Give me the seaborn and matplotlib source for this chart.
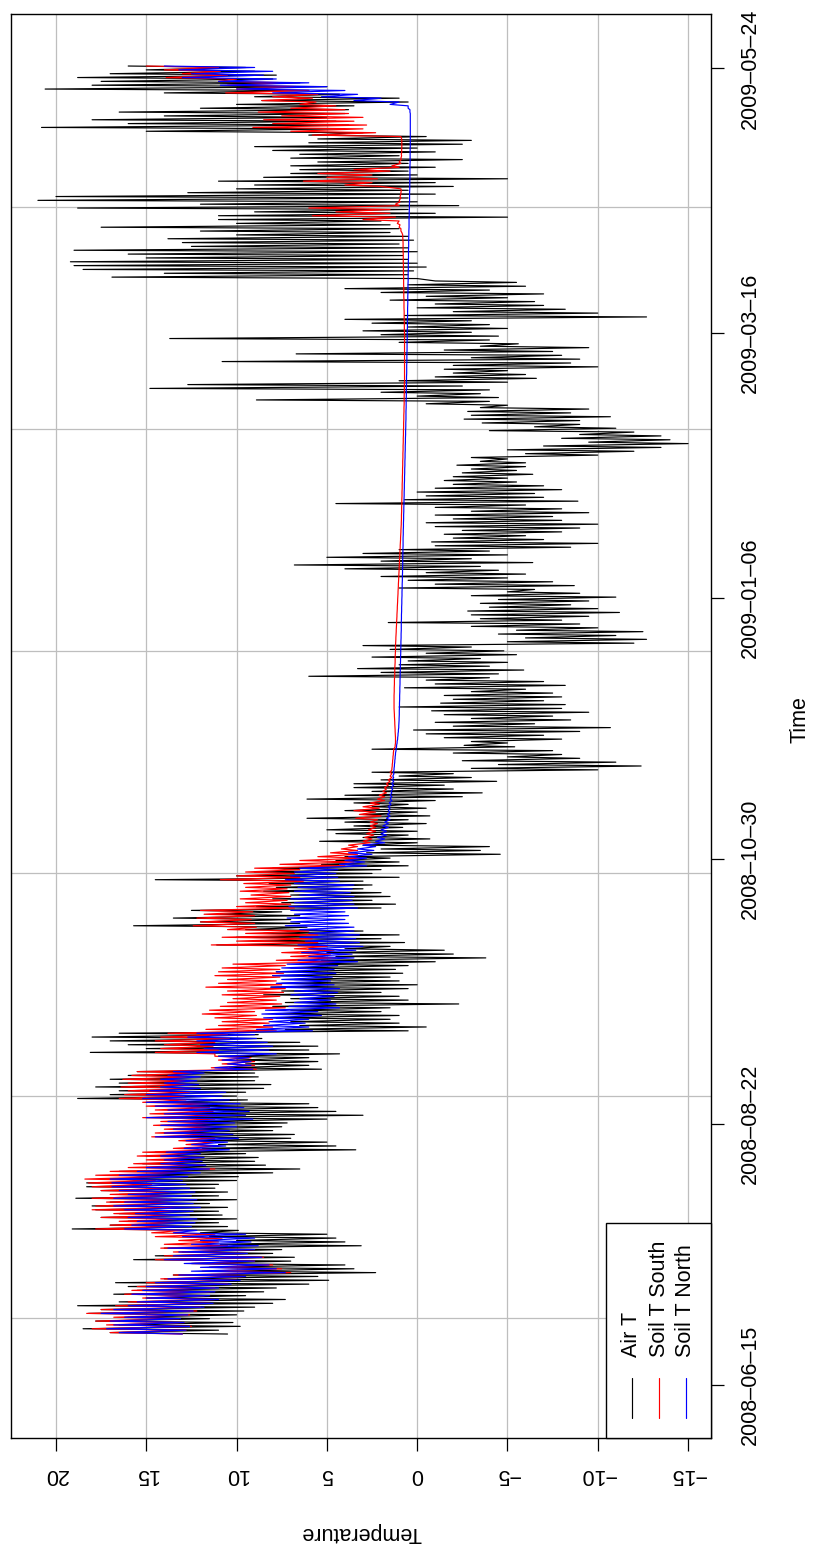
import numpy as np
import matplotlib
matplotlib.use("Agg")
import matplotlib.pyplot as plt
import matplotlib.dates as mdates
from matplotlib.patches import Rectangle
import seaborn as sns

# ---------------------------------------------------------------------------
# Daily temperature extremes (deg C), one entry per day starting at START.
# The low of each day is logged in the early morning, the high in the afternoon.
# ---------------------------------------------------------------------------
START = "2008-06-28"

AIR_HI = [
    17.0, 18.5, 16.5, 17.8, 16.0, 18.2, 17.5, 18.8, 16.5, 15.0,
    16.8, 15.5, 16.0, 16.7, 14.0, 13.5, 10.4, 11.5, 12.5, 15.7,
    14.5, 13.0, 14.0, 10.9, 10.0, 11.5, 12.0, 19.1, 17.0, 16.0,
    17.5, 16.5, 17.8, 18.0, 17.0, 18.9, 16.5, 17.5, 18.3, 18.3,
    17.5, 16.0, 16.5, 15.0, 15.2, 14.0, 15.0, 14.5, 11.9, 11.0,
    12.0, 13.5, 14.0, 13.0, 13.8, 12.5, 14.2, 13.0, 12.5, 13.5,
    14.0, 18.8, 17.0, 16.5, 17.8, 16.5, 17.0, 16.0, 15.5, 10.4,
    9.5, 10.0, 11.0, 18.1, 15.0, 16.0, 17.0, 18.0, 16.5, 7.3,
    6.5, 7.0, 7.8, 7.8, 7.0, 8.0, 7.3, 7.0, 8.5, 7.5,
    8.1, 7.5, 6.8, 8.0, 7.8, 7.0, 6.5, 5.3, 4.5, 5.0,
    4.0, 11.1, 9.0, 10.0, 8.5, 9.5, 15.7, 12.0, 13.5, 11.0,
    12.5, 8.9, 7.5, 8.0, 7.0, 8.5, 7.8, 8.2, 14.5, 10.0,
    9.0, 8.0, 5.3, 4.5, 4.0, 2.8, 2.0, 3.0, 5.4, 3.0,
    4.5, 5.0, 3.5, 4.0, 6.1, 3.0, 4.0, 2.5, 3.5, 6.1,
    4.0, 2.5, 3.5, 3.5, 2.0, 1.0, 2.5, -3.0, -4.5, -2.5,
    -5.0, -2.0, 2.5, -2.6, -3.0, -1.5, -0.5, 0.2, -2.0, -1.0,
    -3.0, -1.5, -0.8, 1.0, -1.3, -2.0, -1.5, -3.0, 0.7, -1.0,
    -0.5, 6.0, 2.0, 3.3, 1.0, 0.5, 2.5, -0.5, 1.5, 3.0,
    -5.0, -6.0, -4.5, -5.5, -3.0, 1.6, -3.5, -3.0, -2.8, -4.0,
    -3.5, -4.5, -3.0, -5.0, 1.0, -1.0, 0.5, 2.0, -0.5, 4.0,
    6.8, 2.0, 5.0, 3.0, 1.0, -1.0, -0.8, -2.0, -1.5, -2.5,
    -1.0, -0.5, -2.0, -1.0, -3.0, -1.0, 4.5, 0.7, -0.5, 0.0,
    -1.0, -2.0, -1.5, -2.0, -2.5, -3.0, -2.2, -3.5, -3.0, -6.0,
    -5.0, -7.0, -9.5, -8.0, -9.0, -4.0, -6.5, -3.6, -2.6, -3.0,
    -2.8, -3.5, -0.5, 8.9, 0.0, 2.0, 14.8, 12.7, 1.0, -1.0,
    -2.0, -1.5, -2.0, 10.8, -3.0, 6.7, -1.5, -3.5, 1.0, 13.7,
    2.0, 3.0, 0.5, 2.5, 4.0, 0.7, -2.0, 0.0, -1.0, 1.5,
    -0.5, 2.0, 4.0, 0.5, -1.0, 16.9, 14.0, 18.5, 19.0, 19.2,
    15.0, 16.0, 19.0, 12.5, 13.0, 13.8, 10.0, 12.0, 17.5, 10.0,
    11.0, 11.0, 9.0, 18.8, 12.0, 21.0, 20.0, 12.7, 10.0, 9.0,
    11.0, 8.5, 7.0, 6.5, 7.0, 5.5, 7.0, 6.5, 8.0, 9.0,
    6.0, 5.5, 6.0, 15.0, 20.8, 16.0, 18.0, 14.0, 16.5, 12.0,
    10.0, 8.6, 9.0, 14.0, 20.6, 18.0, 17.5, 18.8, 17.0, 15.0,
    16.0,
]

AIR_LO = [
    10.5, 11.0, 9.8, 10.2, 11.5, 10.0, 9.6, 9.0, 8.0, 7.3,
    9.5, 8.5, 7.8, 6.0, 4.9, 5.5, 2.3, 3.5, 4.0, 7.0,
    6.8, 8.0, 7.5, 3.1, 4.0, 4.5, 5.0, 9.9, 10.5, 11.0,
    10.0, 10.8, 11.0, 10.5, 11.5, 10.0, 11.0, 10.5, 11.2, 11.0,
    10.0, 9.9, 8.0, 6.5, 8.4, 9.0, 8.8, 9.5, 3.4, 4.5,
    5.0, 7.0, 6.8, 8.0, 7.5, 7.2, 5.0, 3.0, 4.5, 5.5,
    6.0, 9.4, 10.0, 9.5, 8.5, 8.1, 9.0, 8.8, 9.0, 5.3,
    6.0, 5.5, 6.0, 4.3, 6.0, 5.5, 6.5, 8.6, 8.8, 0.5,
    -0.5, 1.0, 1.5, 1.0, 2.0, 1.5, -2.3, 0.5, 1.0, 2.0,
    0.5, 0.0, 1.0, 1.5, 0.8, 1.2, 0.5, -1.0, -3.8, -2.0,
    -1.5, 1.5, 0.7, 2.0, 1.0, 3.0, 6.1, 6.5, 7.0, 6.5,
    7.5, 2.0, 1.2, 2.5, 1.5, 2.0, 3.0, 2.5, 3.0, 1.0,
    2.5, 2.0, 0.5, 1.0, 1.5, -4.6, -3.5, -4.0, 0.0, -0.7,
    0.5, 0.0, 0.8, -0.5, 0.5, -0.7, 0.0, -0.5, 0.5, -1.0,
    -2.5, -3.6, -2.0, -1.5, -4.4, -3.0, -2.0, -10.0, -12.4, -11.0,
    -9.0, -8.0, -7.5, -5.4, -5.0, -8.0, -7.0, -9.0, -10.7, -6.5,
    -8.5, -7.5, -9.5, -8.0, -8.2, -7.0, -8.0, -7.5, -6.0, -8.2,
    -7.0, -4.0, -4.5, -5.9, -4.0, -5.0, -3.5, -5.5, -4.8, -3.0,
    -12.0, -12.7, -11.0, -12.5, -10.0, -9.0, -8.0, -9.5, -11.2, -10.0,
    -8.5, -9.5, -11.0, -9.0, -6.5, -8.7, -7.5, -5.0, -6.0, -4.5,
    -3.5, -6.4, -3.0, -5.0, -4.0, -8.5, -10.0, -7.0, -6.0, -8.0,
    -9.0, -10.0, -8.0, -7.5, -9.5, -8.0, -6.0, -8.9, -7.0, -6.5,
    -8.0, -7.0, -5.5, -5.0, -6.4, -5.5, -6.0, -6.0, -5.0, -10.0,
    -12.0, -13.5, -15.0, -14.0, -13.5, -12.0, -11.0, -9.0, -9.0, -10.7,
    -8.5, -9.5, -5.0, -4.0, -4.5, -3.5, -4.0, -2.5, -5.0, -6.6,
    -6.0, -5.0, -10.0, -8.5, -9.0, -8.0, -7.5, -9.5, -5.6, -4.0,
    -4.5, -3.0, -5.0, -4.0, -3.0, -12.7, -10.0, -8.2, -7.0, -6.5,
    -5.0, -7.0, -4.0, -6.0, -5.5, 0.0, 0.5, 0.2, -0.5, 0.0,
    0.5, 0.8, 0.0, 0.5, 1.0, 0.2, 0.5, 1.5, 1.0, 1.5,
    2.0, -5.0, -1.0, 0.5, -2.3, 0.0, 0.5, -1.0, 0.5, -2.0,
    -1.0, -5.0, 0.0, 0.5, -1.0, 0.5, -2.5, 1.0, -1.0, 0.0,
    -2.5, -3.0, -0.5, 3.0, 4.0, 3.8, 4.5, 5.0, 4.0, 3.8,
    3.5, 0.5, 1.0, 4.3, 6.0, 5.0, 6.5, 8.0, 7.8, 9.0,
    9.5,
]

SOUTH_HI = [
    17.0, 18.0, 17.2, 17.8, 16.8, 18.3, 17.5, 16.7, 16.0, 15.2,
    16.2, 15.8, 15.5, 15.0, 14.2, 13.5, 11.9, 11.5, 12.5, 14.5,
    14.0, 13.5, 14.2, 14.0, 13.2, 14.5, 14.7, 17.8, 17.0, 16.5,
    17.5, 16.8, 18.0, 17.8, 17.2, 18.0, 17.0, 17.5, 18.0, 18.2,
    18.4, 17.8, 17.0, 16.0, 15.7, 15.0, 15.5, 15.2, 13.5, 12.8,
    13.2, 14.7, 14.5, 14.0, 14.6, 14.2, 15.2, 14.8, 14.5, 15.0,
    15.2, 16.5, 16.2, 16.0, 16.4, 16.0, 16.3, 15.8, 15.5, 11.4,
    10.8, 11.0, 11.2, 14.5, 14.2, 14.0, 14.5, 14.2, 13.8, 11.7,
    11.0, 10.8, 11.2, 11.9, 11.5, 10.9, 10.5, 10.2, 10.8, 10.5,
    11.7, 11.0, 10.5, 11.2, 11.0, 10.8, 10.2, 7.8, 7.0, 7.5,
    6.8, 11.4, 10.0, 10.8, 9.5, 10.5, 12.4, 12.0, 12.2, 11.8,
    12.0, 10.0, 9.5, 9.8, 9.2, 9.8, 9.5, 9.6, 10.9, 10.0,
    9.5, 9.0, 7.6, 6.5, 5.5, 4.8, 4.2, 3.8, 3.0, 2.9,
    2.8, 2.7, 2.6, 2.6, 3.4, 3.2, 3.5, 3.0, 2.6, 2.2,
    2.1, 1.9, 1.8, 1.7, 1.6, 1.5, 1.5, 1.40, 1.38, 1.36,
    1.34, 1.32, 1.30, 1.22, 1.20, 1.20, 1.21, 1.22, 1.23, 1.24,
    1.25, 1.26, 1.27, 1.28, 1.28, 1.28, 1.28, 1.27, 1.27, 1.26,
    1.26, 1.25, 1.24, 1.24, 1.23, 1.22, 1.22, 1.21, 1.20, 1.20,
    1.19, 1.18, 1.17, 1.16, 1.15, 1.14, 1.13, 1.12, 1.11, 1.10,
    1.09, 1.08, 1.07, 1.06, 1.05, 1.04, 1.03, 1.02, 1.01, 1.00,
    0.99, 0.98, 0.97, 0.96, 0.95, 0.94, 0.93, 0.92, 0.91, 0.90,
    0.89, 0.88, 0.87, 0.87, 0.86, 0.86, 0.85, 0.85, 0.84, 0.84,
    0.83, 0.83, 0.82, 0.82, 0.81, 0.81, 0.80, 0.80, 0.79, 0.79,
    0.78, 0.78, 0.77, 0.77, 0.76, 0.76, 0.75, 0.75, 0.74, 0.74,
    0.73, 0.73, 0.72, 0.72, 0.72, 0.71, 0.71, 0.71, 0.70, 0.70,
    0.70, 0.70, 0.70, 0.70, 0.70, 0.70, 0.70, 0.70, 0.70, 0.70,
    0.70, 0.71, 0.71, 0.71, 0.72, 0.72, 0.72, 0.73, 0.73, 0.73,
    0.74, 0.74, 0.74, 0.75, 0.75, 0.75, 0.76, 0.76, 0.76, 0.77,
    0.77, 0.77, 0.78, 0.78, 0.78, 0.79, 0.80, 0.90, 1.00, 1.10,
    3.0, 5.8, 4.5, 6.0, 1.2, 1.0, 0.95, 0.9, 0.9, 4.0,
    6.3, 5.0, 5.5, 3.5, 1.4, 1.0, 0.9, 0.88, 0.86, 0.85,
    0.85, 0.86, 5.8, 7.0, 9.1, 8.0, 8.5, 7.5, 8.8, 7.0,
    6.5, 8.6, 8.0, 10.6, 10.0, 10.5, 11.0, 13.9, 13.0, 14.0,
    15.0,
]

SOUTH_LO = [
    13.0, 12.8, 12.5, 12.9, 13.2, 12.6, 12.2, 12.0, 11.5, 11.2,
    11.8, 11.5, 11.2, 10.5, 10.0, 9.5, 7.0, 7.5, 8.0, 9.0,
    8.5, 9.5, 9.0, 10.5, 11.0, 10.8, 11.2, 13.0, 13.5, 13.2,
    13.0, 13.4, 13.2, 13.0, 13.3, 13.0, 13.5, 13.2, 13.5, 14.7,
    14.5, 14.0, 12.5, 11.2, 11.9, 12.0, 11.9, 12.2, 11.2, 11.0,
    11.3, 11.2, 11.4, 11.5, 11.3, 11.2, 11.2, 11.0, 11.3, 11.5,
    11.6, 12.8, 12.9, 12.6, 12.2, 12.5, 12.4, 12.6, 12.3, 8.9,
    9.0, 9.0, 9.2, 11.2, 11.0, 11.3, 11.2, 10.4, 10.5, 7.8,
    8.0, 8.2, 8.0, 8.9, 9.0, 7.3, 7.5, 7.8, 7.6, 7.4,
    7.3, 7.5, 7.8, 7.6, 7.4, 7.6, 7.3, 4.3, 4.5, 4.8,
    4.6, 5.0, 5.5, 5.8, 5.5, 6.0, 8.9, 9.0, 9.2, 9.0,
    9.1, 6.8, 7.0, 7.2, 7.0, 7.1, 7.2, 7.0, 6.3, 6.5,
    6.8, 6.5, 4.0, 3.5, 3.0, 3.3, 3.3, 3.3, 2.6, 2.5,
    2.4, 2.3, 2.3, 2.2, 2.2, 2.0, 2.3, 2.1, 2.1, 1.8,
    1.8, 1.7, 1.7, 1.6, 1.5, 1.4, 1.4, 1.40, 1.38, 1.36,
    1.34, 1.32, 1.30, 1.22, 1.20, 1.20, 1.21, 1.22, 1.23, 1.24,
    1.25, 1.26, 1.27, 1.28, 1.28, 1.28, 1.28, 1.27, 1.27, 1.26,
    1.26, 1.25, 1.24, 1.24, 1.23, 1.22, 1.22, 1.21, 1.20, 1.20,
    1.19, 1.18, 1.17, 1.16, 1.15, 1.14, 1.13, 1.12, 1.11, 1.10,
    1.09, 1.08, 1.07, 1.06, 1.05, 1.04, 1.03, 1.02, 1.01, 1.00,
    0.99, 0.98, 0.97, 0.96, 0.95, 0.94, 0.93, 0.92, 0.91, 0.90,
    0.89, 0.88, 0.87, 0.87, 0.86, 0.86, 0.85, 0.85, 0.84, 0.84,
    0.83, 0.83, 0.82, 0.82, 0.81, 0.81, 0.80, 0.80, 0.79, 0.79,
    0.78, 0.78, 0.77, 0.77, 0.76, 0.76, 0.75, 0.75, 0.74, 0.74,
    0.73, 0.73, 0.72, 0.72, 0.72, 0.71, 0.71, 0.71, 0.70, 0.70,
    0.70, 0.70, 0.70, 0.70, 0.70, 0.70, 0.70, 0.70, 0.70, 0.70,
    0.70, 0.71, 0.71, 0.71, 0.72, 0.72, 0.72, 0.73, 0.73, 0.73,
    0.74, 0.74, 0.74, 0.75, 0.75, 0.75, 0.76, 0.76, 0.76, 0.77,
    0.77, 0.77, 0.78, 0.78, 0.78, 0.79, 0.80, 0.85, 0.90, 0.95,
    1.0, 1.2, 1.5, 1.5, 1.0, 0.95, 0.9, 0.9, 0.88, 2.0,
    2.5, 2.2, 2.5, 1.5, 1.0, 0.9, 0.88, 0.86, 0.85, 0.85,
    0.85, 0.85, 0.9, 2.3, 3.0, 2.8, 3.5, 3.0, 3.8, 4.0,
    4.5, 5.6, 5.8, 5.5, 6.0, 6.5, 7.0, 10.0, 10.5, 10.9,
    11.0,
]

NORTH_HI = [
    16.5, 17.2, 16.8, 17.0, 16.2, 17.5, 16.8, 16.0, 15.5, 15.0,
    15.8, 15.2, 15.0, 14.5, 13.8, 13.2, 12.5, 12.0, 12.9, 14.0,
    13.5, 13.2, 13.8, 12.5, 12.0, 13.0, 13.5, 16.2, 15.8, 15.5,
    16.0, 15.6, 16.2, 16.8, 16.2, 16.8, 16.0, 16.5, 16.9, 16.9,
    17.0, 16.5, 15.5, 15.0, 14.2, 14.0, 14.2, 13.9, 12.9, 12.5,
    12.8, 14.5, 14.0, 13.5, 14.2, 13.8, 15.0, 14.0, 13.8, 14.5,
    15.0, 15.2, 15.0, 14.8, 14.2, 14.0, 14.2, 13.8, 13.5, 11.2,
    10.5, 10.8, 11.0, 12.2, 11.8, 12.0, 12.2, 12.7, 12.2, 8.9,
    8.5, 8.2, 8.5, 8.6, 8.4, 7.1, 6.8, 6.5, 7.0, 6.8,
    8.1, 7.8, 7.5, 8.0, 7.8, 7.5, 7.2, 6.6, 6.0, 6.4,
    6.0, 6.6, 6.2, 6.5, 6.0, 6.5, 7.3, 7.0, 7.2, 6.8,
    7.0, 7.1, 6.8, 7.0, 6.5, 6.8, 6.6, 6.8, 7.3, 7.0,
    6.8, 6.5, 4.3, 4.0, 3.8, 3.8, 3.3, 3.0, 2.3, 2.2,
    2.0, 2.0, 1.9, 1.8, 1.7, 1.65, 1.6, 1.6, 1.55, 1.5,
    1.5, 1.45, 1.45, 1.4, 1.38, 1.35, 1.32, 1.28, 1.26, 1.24,
    1.22, 1.20, 1.17, 1.14, 1.11, 1.08, 1.06, 1.04, 1.02, 1.01,
    1.00, 0.99, 0.99, 0.98, 0.98, 0.97, 0.97, 0.96, 0.96, 0.95,
    0.95, 0.94, 0.94, 0.93, 0.93, 0.92, 0.92, 0.91, 0.91, 0.90,
    0.90, 0.89, 0.89, 0.88, 0.88, 0.88, 0.87, 0.87, 0.86, 0.86,
    0.85, 0.85, 0.84, 0.84, 0.83, 0.83, 0.82, 0.82, 0.81, 0.81,
    0.80, 0.80, 0.80, 0.79, 0.79, 0.78, 0.78, 0.78, 0.77, 0.77,
    0.76, 0.76, 0.75, 0.75, 0.74, 0.74, 0.73, 0.73, 0.72, 0.72,
    0.71, 0.71, 0.70, 0.70, 0.69, 0.69, 0.68, 0.68, 0.67, 0.67,
    0.66, 0.66, 0.65, 0.65, 0.64, 0.64, 0.63, 0.63, 0.62, 0.62,
    0.62, 0.61, 0.61, 0.61, 0.60, 0.60, 0.60, 0.59, 0.59, 0.59,
    0.58, 0.58, 0.58, 0.57, 0.57, 0.57, 0.56, 0.56, 0.56, 0.55,
    0.55, 0.55, 0.54, 0.54, 0.54, 0.53, 0.53, 0.53, 0.52, 0.52,
    0.52, 0.51, 0.51, 0.51, 0.50, 0.50, 0.50, 0.49, 0.49, 0.49,
    0.48, 0.48, 0.48, 0.47, 0.47, 0.47, 0.46, 0.46, 0.45, 0.45,
    0.45, 0.44, 0.44, 0.43, 0.43, 0.42, 0.42, 0.42, 0.41, 0.41,
    0.41, 0.40, 0.40, 0.40, 0.40, 0.39, 0.39, 0.39, 0.39, 0.38,
    0.38, 0.38, 0.38, 0.38, 0.38, 0.38, 0.38, 0.38, 0.40, 0.50,
    1.5, 3.5, 5.3, 8.0, 10.0, 10.9, 11.0, 13.0, 12.5, 13.2,
    14.0,
]

NORTH_LO = [
    13.0, 12.8, 12.6, 12.9, 13.1, 12.7, 12.4, 11.8, 11.3, 11.0,
    11.5, 11.2, 11.0, 10.3, 9.8, 9.5, 7.3, 7.8, 8.2, 9.0,
    8.6, 9.4, 9.0, 8.8, 9.2, 9.0, 9.5, 12.2, 12.5, 12.3,
    12.2, 12.6, 12.4, 12.0, 12.4, 12.2, 12.5, 12.3, 12.6, 12.8,
    13.0, 12.7, 12.0, 11.5, 11.7, 11.9, 11.8, 12.0, 10.4, 10.6,
    10.5, 9.9, 10.2, 10.4, 10.0, 10.1, 9.1, 9.5, 9.3, 9.6,
    9.8, 10.4, 10.8, 10.6, 12.0, 12.1, 12.2, 12.0, 11.8, 9.1,
    9.2, 9.2, 9.3, 7.8, 8.2, 8.0, 8.3, 8.9, 9.0, 5.8,
    6.0, 6.2, 6.0, 5.3, 5.5, 4.3, 4.5, 4.8, 4.6, 4.4,
    4.3, 4.6, 4.8, 4.7, 4.5, 4.6, 4.4, 3.3, 3.5, 3.6,
    3.4, 3.0, 3.2, 3.4, 3.2, 3.5, 3.5, 3.8, 4.0, 3.8,
    4.0, 3.3, 3.5, 3.6, 3.5, 3.7, 3.6, 3.5, 4.3, 4.4,
    4.5, 4.4, 2.8, 2.9, 2.8, 2.5, 2.4, 2.3, 1.8, 1.8,
    1.7, 1.7, 1.6, 1.6, 1.5, 1.5, 1.5, 1.5, 1.45, 1.4,
    1.4, 1.4, 1.35, 1.3, 1.3, 1.3, 1.28, 1.28, 1.26, 1.24,
    1.22, 1.20, 1.17, 1.14, 1.11, 1.08, 1.06, 1.04, 1.02, 1.01,
    1.00, 0.99, 0.99, 0.98, 0.98, 0.97, 0.97, 0.96, 0.96, 0.95,
    0.95, 0.94, 0.94, 0.93, 0.93, 0.92, 0.92, 0.91, 0.91, 0.90,
    0.90, 0.89, 0.89, 0.88, 0.88, 0.88, 0.87, 0.87, 0.86, 0.86,
    0.85, 0.85, 0.84, 0.84, 0.83, 0.83, 0.82, 0.82, 0.81, 0.81,
    0.80, 0.80, 0.80, 0.79, 0.79, 0.78, 0.78, 0.78, 0.77, 0.77,
    0.76, 0.76, 0.75, 0.75, 0.74, 0.74, 0.73, 0.73, 0.72, 0.72,
    0.71, 0.71, 0.70, 0.70, 0.69, 0.69, 0.68, 0.68, 0.67, 0.67,
    0.66, 0.66, 0.65, 0.65, 0.64, 0.64, 0.63, 0.63, 0.62, 0.62,
    0.62, 0.61, 0.61, 0.61, 0.60, 0.60, 0.60, 0.59, 0.59, 0.59,
    0.58, 0.58, 0.58, 0.57, 0.57, 0.57, 0.56, 0.56, 0.56, 0.55,
    0.55, 0.55, 0.54, 0.54, 0.54, 0.53, 0.53, 0.53, 0.52, 0.52,
    0.52, 0.51, 0.51, 0.51, 0.50, 0.50, 0.50, 0.49, 0.49, 0.49,
    0.48, 0.48, 0.48, 0.47, 0.47, 0.47, 0.46, 0.46, 0.45, 0.45,
    0.45, 0.44, 0.44, 0.43, 0.43, 0.42, 0.42, 0.42, 0.41, 0.41,
    0.41, 0.40, 0.40, 0.40, 0.40, 0.39, 0.39, 0.39, 0.39, 0.38,
    0.38, 0.38, 0.38, 0.38, 0.38, 0.38, 0.38, 0.38, 0.38, 0.40,
    0.5, 1.0, 2.0, 3.3, 4.0, 5.0, 6.0, 7.8, 8.5, 8.0,
    9.0,
]

SERIES_NAMES = ["Air T", "Soil T South", "Soil T North"]
SERIES_COLORS = ["black", "red", "blue"]

TEMP_TICKS = [20, 15, 10, 5, 0, -5, -10, -15]
DATE_TICKS = ["2008-06-15", "2008-08-22", "2008-10-30",
              "2009-01-06", "2009-03-16", "2009-05-24"]
# grid() on a POSIXct axis: pretty() steps of 5e6 seconds
GRID_SECONDS = [1215e6, 1220e6, 1225e6, 1230e6, 1235e6, 1240e6]

# ---------------------------------------------------------------------------
sns.set_style("white")
plt.rcParams["font.family"] = ["Liberation Sans", "DejaVu Sans"]
plt.rcParams["text.color"] = "black"
plt.rcParams["axes.labelcolor"] = "black"
plt.rcParams["xtick.color"] = "black"
plt.rcParams["ytick.color"] = "black"
FS = 15.5
LW = 0.85

t_start = mdates.date2num(np.datetime64(START))


def day_series(lo, hi):
    """Interleave morning lows and afternoon highs into one time series."""
    lo = np.asarray(lo, float)
    hi = np.asarray(hi, float)
    days = t_start + np.arange(len(lo))
    t = np.column_stack([days + 0.25, days + 0.625]).ravel()
    v = np.column_stack([lo, hi]).ravel()
    return t, v


fig = plt.figure(figsize=(8.2, 15.5), dpi=100)
W, H = 820.0, 1550.0
px_l, px_r, px_t, px_b = 11, 711, 14, 1438
ax = fig.add_axes([px_l / W, 1 - px_b / H, (px_r - px_l) / W, (px_b - px_t) / H])

series = [(AIR_LO, AIR_HI), (SOUTH_LO, SOUTH_HI), (NORTH_LO, NORTH_HI)]
for (lo, hi), name, col in zip(series, SERIES_NAMES, SERIES_COLORS):
    t, v = day_series(lo, hi)
    sns.lineplot(x=v, y=t, orient="y", sort=False, estimator=None,
                 color=col, linewidth=LW, ax=ax, zorder=3)

# temperature runs right-to-left, time bottom-to-top
ax.set_xlim(22.49, -16.27)
ax.set_ylim(t_start - 26.84, t_start + 344.18)

# temperature axis (bottom)
ax.set_xticks(TEMP_TICKS)
ax.set_xticklabels([str(v).replace("-", "\u2212") for v in TEMP_TICKS],
                   rotation=180, fontsize=FS, color="black")
ax.tick_params(axis="x", which="major", direction="out", length=9.5,
               width=0.9, pad=9, bottom=True, top=False, colors="black")

# time axis (right)
ax.yaxis.tick_right()
date_pos = [mdates.date2num(np.datetime64(d)) for d in DATE_TICKS]
ax.set_yticks(date_pos)
ax.set_yticklabels([d.replace("-", "\u2013") for d in DATE_TICKS],
                   rotation=90, va="center", fontsize=FS, color="black")
ax.tick_params(axis="y", which="major", direction="out", length=9.5,
               width=0.9, pad=11, right=True, left=False, colors="black")

grid_pos = [mdates.date2num(np.datetime64(int(s), "s")) for s in GRID_SECONDS]
ax.set_yticks(grid_pos, minor=True)
ax.tick_params(axis="y", which="minor", length=0)

ax.grid(axis="x", which="major", color="#bebebe", linewidth=0.9)
ax.grid(axis="y", which="major", visible=False)
ax.grid(axis="y", which="minor", color="#bebebe", linewidth=0.9)
ax.set_axisbelow(True)

for sp in ax.spines.values():
    sp.set_visible(True)
    sp.set_color("black")
    sp.set_linewidth(1.0)

# axis titles
ax.set_xlabel("Temperature", rotation=180, fontsize=FS, va="center",
              ha="center", color="black")
ax.xaxis.set_label_coords(0.5, (px_b - 1532) / (px_b - px_t))
ax.set_ylabel("Time", rotation=90, fontsize=FS, va="center", ha="center",
              color="black")
ax.yaxis.set_label_position("right")
ax.yaxis.set_label_coords((790 - px_l) / (px_r - px_l), (px_b - 720) / (px_b - px_t))

# legend box in the lower right corner, entries reading upward
ax.add_patch(Rectangle((0.85, 0.0), 0.15, 0.151, transform=ax.transAxes,
                       facecolor="white", edgecolor="black", linewidth=1.0,
                       zorder=5, clip_on=False))
for xk, name, col in zip([0.887, 0.926, 0.964], SERIES_NAMES, SERIES_COLORS):
    ax.plot([xk, xk], [0.014, 0.042], color=col, linewidth=LW,
            transform=ax.transAxes, zorder=6, clip_on=False)
    ax.text(xk, 0.057, name, rotation=90, rotation_mode="anchor",
            ha="left", va="center", fontsize=FS, color="black",
            transform=ax.transAxes, zorder=6)

fig.savefig("out.png", dpi=100)
